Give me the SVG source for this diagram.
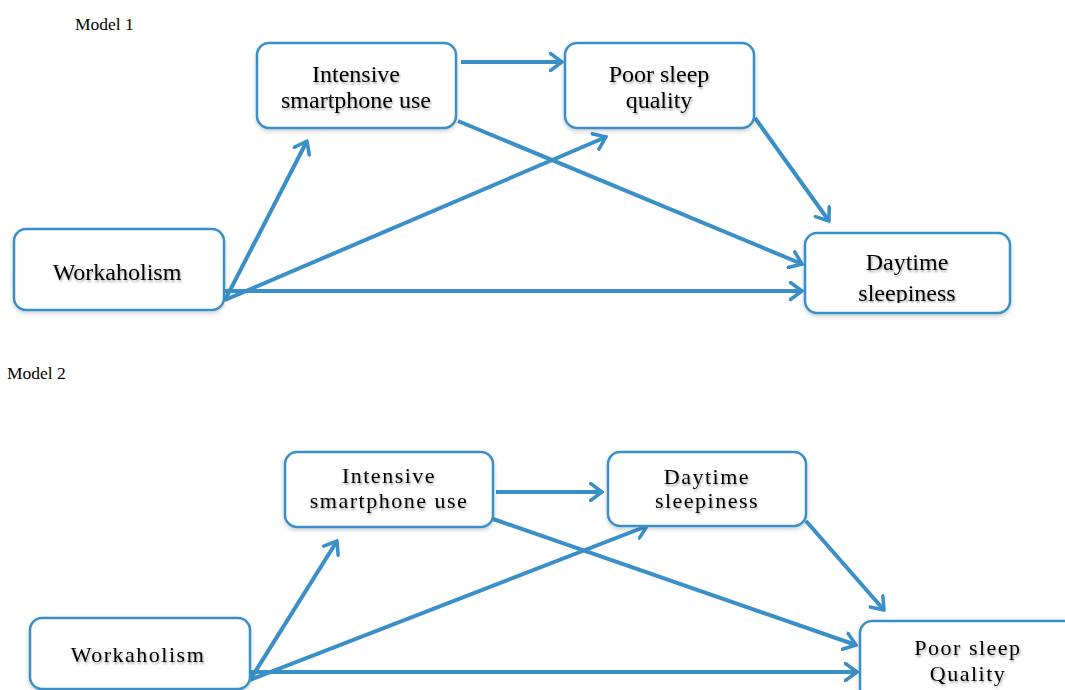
<svg xmlns="http://www.w3.org/2000/svg" width="1065" height="690" viewBox="0 0 1065 690">
<style>
.box{fill:#fff;stroke:#3a8fc8;stroke-width:2.5;filter:url(#bs)}
.lbl{font-family:"Liberation Serif","Times New Roman",serif;font-size:24px;fill:#000;text-anchor:middle;filter:url(#ts)}
.lbl2{font-family:"Liberation Serif","Times New Roman",serif;font-size:22px;letter-spacing:1.5px;fill:#000;text-anchor:middle;filter:url(#ts)}
.title{font-family:"Liberation Serif","Times New Roman",serif;font-size:17.5px;fill:#000}
.con line{stroke:#3a8fc8;stroke-width:4;fill:none;marker-end:url(#ah)}
</style>
<defs>
<filter id="ts" x="-10%" y="-30%" width="120%" height="170%"><feDropShadow dx="1" dy="2" stdDeviation="1.2" flood-color="#000" flood-opacity="0.35"/></filter>
<filter id="bs" x="-5%" y="-10%" width="110%" height="125%"><feDropShadow dx="0" dy="2" stdDeviation="2" flood-color="#000" flood-opacity="0.2"/></filter>
<marker id="ah" viewBox="0 0 15 20" refX="13" refY="10" markerWidth="15" markerHeight="20" markerUnits="userSpaceOnUse" orient="auto">
<path d="M1.5,1.5 L13,10 L1.5,18.5" fill="none" stroke="#3a8fc8" stroke-width="3.5" stroke-linecap="round" stroke-linejoin="miter"/>
</marker>
<clipPath id="c1"><rect x="805" y="233" width="205" height="70"/></clipPath>
</defs>

<text class="title" x="75" y="30">Model 1</text>
<text class="title" x="7" y="379">Model 2</text>

<g class="con" id="connectors1">
<line x1="461" y1="62" x2="562" y2="62"/>
<line x1="458" y1="121" x2="802" y2="264"/>
<line x1="755" y1="118" x2="829" y2="221"/>
<line x1="225" y1="300" x2="307" y2="141"/>
<line x1="225" y1="300" x2="606" y2="137"/>
<line x1="225" y1="291" x2="802" y2="291"/>
</g>

<g id="m1-intensive"><rect class="box" x="257" y="43" width="199" height="85" rx="12"/>
<text class="lbl" x="356" y="82">Intensive</text><text class="lbl" x="356" y="108">smartphone use</text></g>
<g id="m1-poorsleep"><rect class="box" x="565" y="43" width="189" height="85" rx="12"/>
<text class="lbl" x="659" y="82">Poor sleep</text><text class="lbl" x="659" y="108">quality</text></g>
<g id="m1-workaholism"><rect class="box" x="14" y="229" width="210" height="81" rx="12"/>
<text class="lbl" x="117" y="280">Workaholism</text></g>
<g id="m1-daytime"><rect class="box" x="805" y="233" width="205" height="80" rx="12"/>
<g clip-path="url(#c1)"><text class="lbl" x="907" y="270">Daytime</text><text class="lbl" x="907" y="301">sleepiness</text></g></g>

<g class="con" id="connectors2">
<line x1="496" y1="492" x2="602" y2="492"/>
<line x1="493" y1="519" x2="856" y2="645"/>
<line x1="806" y1="521" x2="884" y2="610"/>
<line x1="250" y1="680" x2="337" y2="541"/>
<line x1="250" y1="680" x2="647" y2="526"/>
<line x1="250" y1="672" x2="857" y2="672"/>
</g>

<g id="m2-intensive"><rect class="box" x="285" y="452" width="208" height="75" rx="12"/>
<text class="lbl2" x="389" y="483">Intensive</text><text class="lbl2" x="389" y="508">smartphone use</text></g>
<g id="m2-daytime"><rect class="box" x="608" y="452" width="198" height="74" rx="12"/>
<text class="lbl2" x="707" y="484">Daytime</text><text class="lbl2" x="707" y="508">sleepiness</text></g>
<g id="m2-workaholism"><rect class="box" x="30" y="618" width="220" height="71" rx="12"/>
<text class="lbl2" x="138" y="662">Workaholism</text></g>
<g id="m2-poorsleep"><rect class="box" x="860" y="621" width="220" height="80" rx="12"/>
<text class="lbl2" x="968" y="655">Poor sleep</text><text class="lbl2" x="968" y="681">Quality</text></g>
</svg>
